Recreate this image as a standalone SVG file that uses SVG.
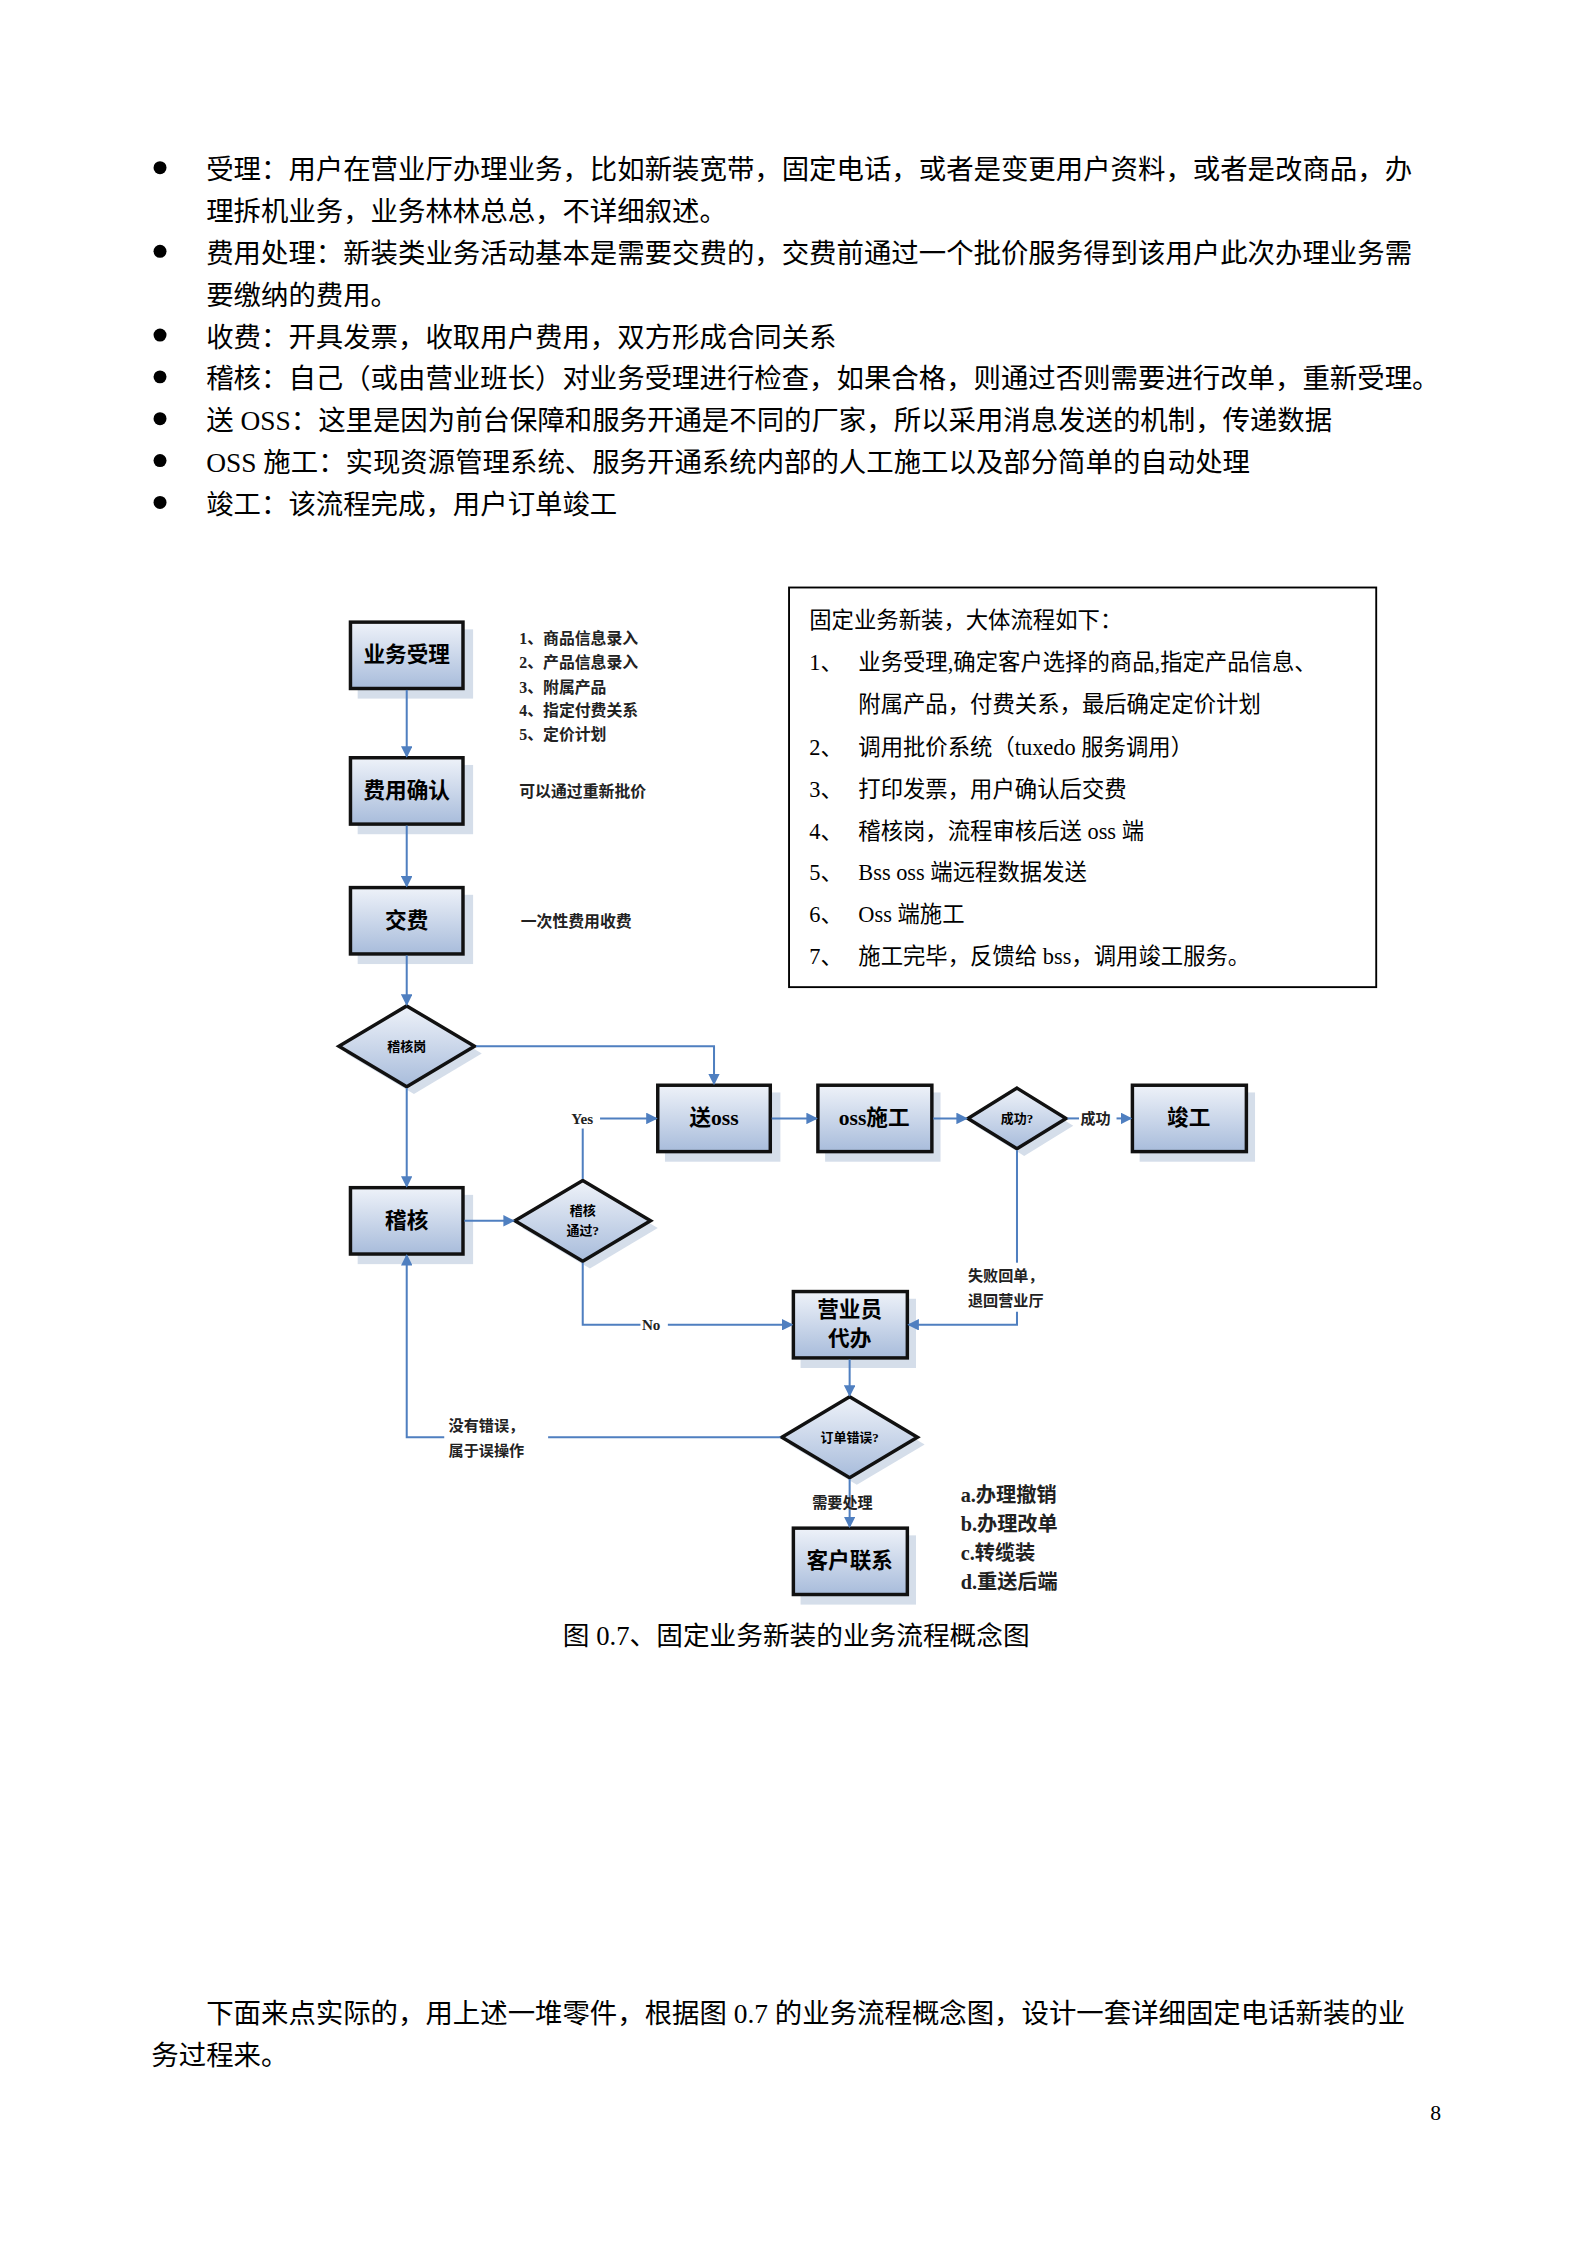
<svg xmlns="http://www.w3.org/2000/svg" width="1587" height="2245" viewBox="0 0 1587 2245">
<style>
.t{font-family:"Liberation Serif","Noto Sans CJK SC",serif;fill:#000}
.body{font-size:19px}
.info{font-size:15.5px}
.side{font-size:11px;font-weight:bold;fill:#222}
.lbl{font-size:10.5px;font-weight:bold;fill:#222}
.nd{font-size:15px;font-weight:bold;text-anchor:middle;dominant-baseline:central}
.dm{font-size:9px;font-weight:bold;text-anchor:middle;dominant-baseline:central}
.box{fill:url(#g);stroke:#111;stroke-width:2.4}
.sh{fill:#d5deea}
.ln{fill:none;stroke:#4f7fc0;stroke-width:1.4}
</style>
<defs>
<linearGradient id="g" x1="0" y1="0" x2="0" y2="1"><stop offset="0" stop-color="#eef2f9"/><stop offset="1" stop-color="#a8bcdb"/></linearGradient>
<marker id="a" markerWidth="8" markerHeight="8" refX="7" refY="4" orient="auto" markerUnits="userSpaceOnUse"><path d="M0,0 L8,4 L0,8 z" fill="#4f7fc0"/></marker>
</defs>
<rect width="1587" height="2245" fill="#fff"/>
<g transform="translate(-3,-4) scale(1.4427)">
<g id="text">
<g class="t body">
<circle cx="113" cy="119" r="4.5"/><circle cx="113" cy="177" r="4.5"/><circle cx="113" cy="235" r="4.5"/><circle cx="113" cy="264" r="4.5"/><circle cx="113" cy="293" r="4.5"/><circle cx="113" cy="322" r="4.5"/><circle cx="113" cy="351" r="4.5"/>
<text x="145" y="127">受理：用户在营业厅办理业务，比如新装宽带，固定电话，或者是变更用户资料，或者是改商品，办</text>
<text x="145" y="156">理拆机业务，业务林林总总，不详细叙述。</text>
<text x="145" y="185">费用处理：新装类业务活动基本是需要交费的，交费前通过一个批价服务得到该用户此次办理业务需</text>
<text x="145" y="214">要缴纳的费用。</text>
<text x="145" y="243">收费：开具发票，收取用户费用，双方形成合同关系</text>
<text x="145" y="272">稽核：自己（或由营业班长）对业务受理进行检查，如果合格，则通过否则需要进行改单，重新受理。</text>
<text x="145" y="301">送 OSS：这里是因为前台保障和服务开通是不同的厂家，所以采用消息发送的机制，传递数据</text>
<text x="145" y="330">OSS 施工：实现资源管理系统、服务开通系统内部的人工施工以及部分简单的自动处理</text>
<text x="145" y="359">竣工：该流程完成，用户订单竣工</text>
<text x="145" y="1405">下面来点实际的，用上述一堆零件，根据图 0.7 的业务流程概念图，设计一套详细固定电话新装的业</text>
<text x="107" y="1434">务过程来。</text>
<text x="554" y="1143" text-anchor="middle" style="font-size:18.5px">图 0.7、固定业务新装的业务流程概念图</text>
<text x="1001" y="1472" text-anchor="end" style="font-size:15px">8</text>
</g>
<rect x="549" y="410" width="407" height="277" fill="#fff" stroke="#000" stroke-width="1.3"/>
<g class="t info">
<text x="563" y="438">固定业务新装，大体流程如下：</text>
<text x="563" y="467">1、</text><text x="597" y="467">业务受理,确定客户选择的商品,指定产品信息、</text>
<text x="597" y="496">附属产品，付费关系，最后确定定价计划</text>
<text x="563" y="526">2、</text><text x="597" y="526">调用批价系统（tuxedo 服务调用）</text>
<text x="563" y="555">3、</text><text x="597" y="555">打印发票，用户确认后交费</text>
<text x="563" y="584">4、</text><text x="597" y="584">稽核岗，流程审核后送 oss 端</text>
<text x="563" y="613">5、</text><text x="597" y="613">Bss oss 端远程数据发送</text>
<text x="563" y="642">6、</text><text x="597" y="642">Oss 端施工</text>
<text x="563" y="671">7、</text><text x="597" y="671">施工完毕，反馈给 bss，调用竣工服务。</text>
</g>
<g class="t side">
<text x="362" y="449">1、商品信息录入</text>
<text x="362" y="466">2、产品信息录入</text>
<text x="362" y="483">3、附属产品</text>
<text x="362" y="499">4、指定付费关系</text>
<text x="362" y="516">5、定价计划</text>
<text x="362" y="555">可以通过重新批价</text>
<text x="363" y="645">一次性费用收费</text>
<text x="668" y="1044" style="font-size:14px">a.办理撤销</text>
<text x="668" y="1064" style="font-size:14px">b.办理改单</text>
<text x="668" y="1084" style="font-size:14px">c.转缆装</text>
<text x="668" y="1104" style="font-size:14px">d.重送后端</text>
</g>
</g>
<g id="n1"><rect class="sh" x="250" y="439" width="80" height="48"/><rect class="box" x="245" y="434" width="78" height="46"/><text class="t nd" x="284" y="457">业务受理</text></g>
<g id="n2"><rect class="sh" x="250" y="533" width="80" height="48"/><rect class="box" x="245" y="528" width="78" height="46"/><text class="t nd" x="284" y="551">费用确认</text></g>
<g id="n3"><rect class="sh" x="250" y="623" width="80" height="48"/><rect class="box" x="245" y="618" width="78" height="46"/><text class="t nd" x="284" y="641">交费</text></g>
<g id="n4"><path class="sh" d="M289,705 L336,733 L289,761 L242,733z"/><path class="box" d="M284,700 L331,728 L284,756 L237,728z"/><text class="t dm" x="284" y="728">稽核岗</text></g>
<g id="n5"><rect class="sh" x="250" y="831" width="80" height="48"/><rect class="box" x="245" y="826" width="78" height="46"/><text class="t nd" x="284" y="849">稽核</text></g>
<g id="n6"><path class="sh" d="M411,826 L458,854 L411,882 L364,854z"/><path class="box" d="M406,821 L453,849 L406,877 L359,849z"/><text class="t dm" x="406" y="842">稽核</text><text class="t dm" x="406" y="856">通过?</text></g>
<g id="n7"><rect class="sh" x="463" y="760" width="80" height="48"/><rect class="box" x="458" y="755" width="78" height="46"/><text class="t nd" x="497" y="778">送oss</text></g>
<g id="n8"><rect class="sh" x="574" y="760" width="80" height="48"/><rect class="box" x="569" y="755" width="79" height="46"/><text class="t nd" x="608" y="778">oss施工</text></g>
<g id="n9"><path class="sh" d="M712,762 L746,783 L712,804 L678,783z"/><path class="box" d="M707,757 L741,778 L707,799 L673,778z"/><text class="t dm" x="707" y="778">成功?</text></g>
<g id="n10"><rect class="sh" x="792" y="760" width="80" height="48"/><rect class="box" x="787" y="755" width="79" height="46"/><text class="t nd" x="826" y="778">竣工</text></g>
<g id="n11"><rect class="sh" x="557" y="903" width="80" height="48"/><rect class="box" x="552" y="898" width="79" height="46"/><text class="t nd" x="591" y="911">营业员</text><text class="t nd" x="591" y="931">代办</text></g>
<g id="n12"><path class="sh" d="M596,976 L643,1004 L596,1032 L549,1004z"/><path class="box" d="M591,971 L638,999 L591,1027 L544,999z"/><text class="t dm" x="591" y="999">订单错误?</text></g>
<g id="n13"><rect class="sh" x="557" y="1067" width="80" height="48"/><rect class="box" x="552" y="1062" width="79" height="46"/><text class="t nd" x="591" y="1085">客户联系</text></g>
<g id="connectors">
<path class="ln" d="M284,481 V527" marker-end="url(#a)"/>
<path class="ln" d="M284,575 V617" marker-end="url(#a)"/>
<path class="ln" d="M284,665 V699" marker-end="url(#a)"/>
<path class="ln" d="M332,728 H497 V754" marker-end="url(#a)"/>
<path class="ln" d="M284,757 V825" marker-end="url(#a)"/>
<path class="ln" d="M324,849 H358" marker-end="url(#a)"/>
<path class="ln" d="M406,820 V785"/>
<path class="ln" d="M418,778 H457" marker-end="url(#a)"/>
<path class="ln" d="M537,778 H568" marker-end="url(#a)"/>
<path class="ln" d="M649,778 H672" marker-end="url(#a)"/>
<path class="ln" d="M742,778 H750"/>
<path class="ln" d="M776,778 H786" marker-end="url(#a)"/>
<path class="ln" d="M707,800 V921 H632" marker-end="url(#a)"/>
<path class="ln" d="M406,878 V921 H551" marker-end="url(#a)"/>
<path class="ln" d="M591,945 V970" marker-end="url(#a)"/>
<path class="ln" d="M543,999 H284 V873" marker-end="url(#a)"/>
<path class="ln" d="M591,1028 V1061" marker-end="url(#a)"/>
<g class="t lbl">
<text x="398" y="782">Yes</text>
<rect x="446" y="915" width="19" height="12" fill="#fff"/><text x="447" y="925">No</text>
<text x="751" y="782">成功</text>
<rect x="670" y="878" width="72" height="34" fill="#fff"/>
<text x="673" y="891">失败回单，</text><text x="673" y="908">退回营业厅</text>
<rect x="310" y="983" width="72" height="34" fill="#fff"/>
<text x="313" y="995">没有错误，</text><text x="313" y="1012">属于误操作</text>
<text x="565" y="1048">需要处理</text>
</g>
</g>
</g>
</svg>
